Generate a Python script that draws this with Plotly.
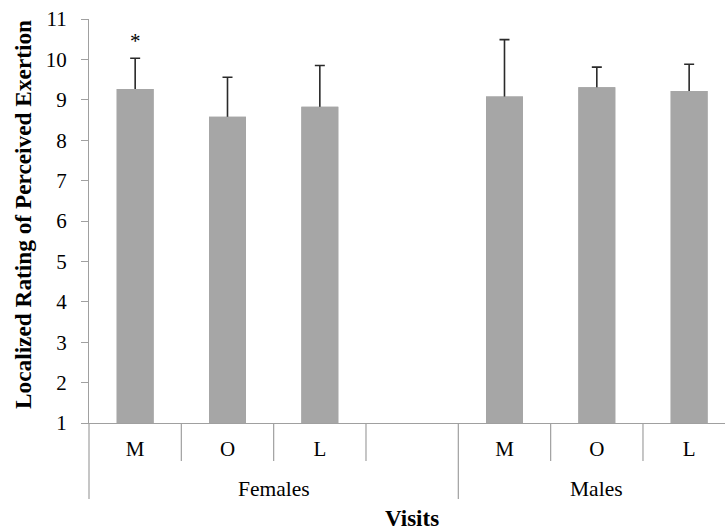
import plotly.graph_objects as go

# ---- data ----
groups = ["Females", "Males"]
visits = ["M", "O", "L"]
female_means = [9.27, 8.58, 8.83]
female_sd = [0.76, 0.98, 1.02]
male_means = [9.08, 9.31, 9.22]
male_sd = [1.41, 0.50, 0.66]
y_ticks = list(range(1, 12))
significant = [True, False, False, False, False, False]

# ---- layout constants ----
W, H = 725, 531
L_M, R_M, T_M, B_M = 89, 0, 19, 108
plot_w = W - L_M - R_M
plot_h = H - T_M - B_M
slot_px = 92.33
n_slots = 7
x_min = -0.5
x_max = x_min + plot_w / slot_px

GREY = "#a6a6a6"
AXIS = "#a0a0a0"
FONT = "Liberation Serif"

# category slots: females 0..2, blank 3, males 4..6
pos_f = list(range(len(visits)))
pos_m = [len(visits) + 1 + i for i in range(len(visits))]
positions = pos_f + pos_m
means = female_means + male_means
sds = female_sd + male_sd
tick_text = visits + [""] + visits

fig = go.Figure()
# bars carrying the (symmetric) error bars; lower half is hidden by the overlay bars
fig.add_trace(go.Bar(
    x=positions, y=[m - 1 for m in means], base=1,
    width=0.4,
    marker=dict(color=GREY, line=dict(width=0)),
    error_y=dict(type="data", array=sds, color="#2a2a2a",
                 thickness=1.6, width=5),
    hoverinfo="skip", showlegend=False,
))
fig.add_trace(go.Bar(
    x=positions, y=[m - 1 for m in means], base=1,
    width=0.4,
    marker=dict(color=GREY, line=dict(width=0)),
    hoverinfo="skip", showlegend=False,
))


def slot_to_paper(s):
    return (s - x_min) / (x_max - x_min)


def px_to_paper_x(p):
    return (p - L_M) / plot_w


def py_to_paper(p):
    return (H - B_M - p) / plot_h


shapes = []
for k in range(n_slots):
    xb = slot_to_paper(k - 0.5)
    outer = k in (0, len(visits) + 1)
    y_end = py_to_paper(499 if outer else 461)
    shapes.append(dict(type="line", xref="paper", yref="paper",
                       x0=xb, x1=xb, y0=0, y1=y_end,
                       line=dict(color=AXIS, width=1.2)))

annotations = []
group_spans = [(0, len(visits) + 1), (len(visits) + 1, n_slots)]
for g, (a, b) in zip(groups, group_spans):
    xc = slot_to_paper((a + b) / 2 - 0.5)
    annotations.append(dict(text=g, x=xc, y=py_to_paper(489),
                            xref="paper", yref="paper", showarrow=False,
                            xanchor="center", yanchor="middle",
                            font=dict(family=FONT, size=21.5, color="black")))
annotations.append(dict(text="<b>Visits</b>",
                        x=slot_to_paper((n_slots - 1) / 2), y=py_to_paper(518),
                        xref="paper", yref="paper", showarrow=False,
                        xanchor="center", yanchor="middle",
                        font=dict(family=FONT, size=23, color="black")))
annotations.append(dict(text="<b>Localized Rating of Perceived Exertion</b>",
                        x=px_to_paper_x(23), y=py_to_paper(215),
                        xref="paper", yref="paper", showarrow=False,
                        xanchor="center", yanchor="middle", textangle=-90,
                        font=dict(family=FONT, size=23.3, color="black")))
for p, m, s, sig in zip(positions, means, sds, significant):
    if sig:
        annotations.append(dict(text="*", x=p, y=m + s, xref="x", yref="y",
                                showarrow=False, xanchor="center",
                                yanchor="bottom", yshift=3,
                                font=dict(family=FONT, size=21, color="black")))

fig.update_layout(
    width=W, height=H,
    margin=dict(l=L_M, r=R_M, t=T_M, b=B_M, pad=0, autoexpand=False),
    plot_bgcolor="white", paper_bgcolor="white",
    shapes=shapes, annotations=annotations,
    font=dict(family=FONT, color="black"),
    barmode="overlay",
    xaxis=dict(
        range=[x_min, x_max], automargin=False,
        tickvals=list(range(n_slots)), ticktext=tick_text,
        ticks="", showgrid=False, zeroline=False,
        showline=True, linecolor=AXIS, linewidth=1.2,
        tickfont=dict(family=FONT, size=21, color="black"),
        ticklabelstandoff=7,
    ),
    yaxis=dict(
        range=[1, 11], tickvals=y_ticks, automargin=False,
        ticks="outside", ticklen=7, tickcolor=AXIS, tickwidth=1.2,
        showgrid=False, zeroline=False,
        showline=True, linecolor=AXIS, linewidth=1.2,
        tickfont=dict(family=FONT, size=21, color="black"),
        ticklabelstandoff=10,
    ),
)

fig.write_html("out.html",
               config={"displayModeBar": False},
               post_script="document.body.style.margin='0';"
                           "document.body.style.overflow='hidden';")
